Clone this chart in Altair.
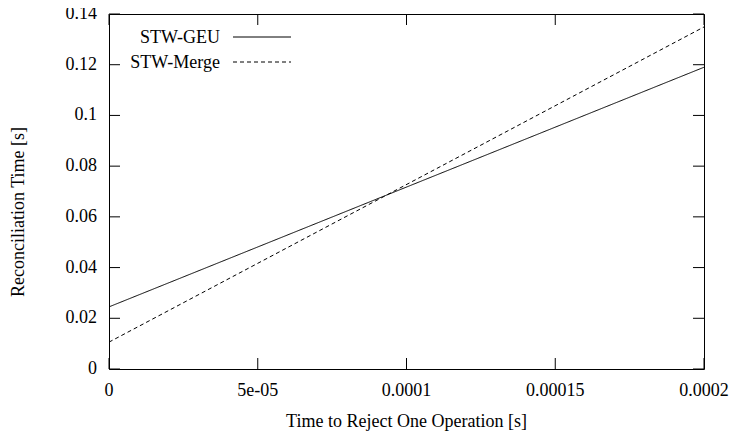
import altair as alt
import pandas as pd

# Data
x_vals = [0.0, 0.0002]
geu_vals = [0.0245, 0.119]
merge_vals = [0.0106, 0.1349]
series_names = ["STW-GEU", "STW-Merge"]
x_ticks = [0.0, 0.00005, 0.0001, 0.00015, 0.0002]
x_tick_labels = ["0", "5e-05", "0.0001", "0.00015", "0.0002"]
y_ticks = [0.0, 0.02, 0.04, 0.06, 0.08, 0.10, 0.12, 0.14]
y_tick_labels = ["0", "0.02", "0.04", "0.06", "0.08", "0.1", "0.12", "0.14"]
x_title = "Time to Reject One Operation [s]"
y_title = "Reconciliation Time [s]"

W, H = 595, 355
FONT = "Liberation Serif"
FS = 18

rows = []
for xv, g, m in zip(x_vals, geu_vals, merge_vals):
    rows.append({"x": xv, "y": g, "series": series_names[0]})
    rows.append({"x": xv, "y": m, "series": series_names[1]})
df = pd.DataFrame(rows)

xscale = alt.Scale(domain=[0, 0.0002], nice=False, zero=False)
yscale = alt.Scale(domain=[0, 0.14], nice=False, zero=False)

base_lines = alt.Chart(df).mark_line(color="black", strokeWidth=1).encode(
    x=alt.X("x:Q", scale=xscale, axis=None),
    y=alt.Y("y:Q", scale=yscale, axis=None),
    detail="series:N",
    strokeDash=alt.StrokeDash("series:N", scale=alt.Scale(domain=series_names, range=[[1, 0], [4, 3]]),
                              legend=None),
)

xt = pd.DataFrame({"x": x_ticks, "lab": x_tick_labels})
yt = pd.DataFrame({"y": y_ticks, "lab": y_tick_labels})
TL = 11
xtick_b = alt.Chart(xt).mark_rule(color="black", strokeWidth=1).encode(
    x=alt.X("x:Q", scale=xscale, axis=None), y=alt.value(H), y2=alt.value(H - TL))
xtick_t = alt.Chart(xt).mark_rule(color="black", strokeWidth=1).encode(
    x=alt.X("x:Q", scale=xscale, axis=None), y=alt.value(0), y2=alt.value(TL))
ytick_l = alt.Chart(yt).mark_rule(color="black", strokeWidth=1).encode(
    y=alt.Y("y:Q", scale=yscale, axis=None), x=alt.value(0), x2=alt.value(TL))
ytick_r = alt.Chart(yt).mark_rule(color="black", strokeWidth=1).encode(
    y=alt.Y("y:Q", scale=yscale, axis=None), x=alt.value(W), x2=alt.value(W - TL))

txt = dict(font=FONT, fontSize=FS, color="black")
xlab = alt.Chart(xt).mark_text(align="center", baseline="middle", **txt).encode(
    x=alt.X("x:Q", scale=xscale, axis=None), y=alt.value(H + 22), text="lab:N")
ylab = alt.Chart(yt).mark_text(align="right", baseline="middle", **txt).encode(
    y=alt.Y("y:Q", scale=yscale, axis=None), x=alt.value(-12), text="lab:N")

one = pd.DataFrame({"k": [0]})
xtitle = alt.Chart(one).mark_text(align="center", baseline="middle", **txt).encode(
    x=alt.value(W / 2), y=alt.value(H + 53), text=alt.value(x_title))
ytitle = alt.Chart(one).mark_text(align="center", baseline="middle", angle=270, **txt).encode(
    x=alt.value(-90), y=alt.value(198), text=alt.value(y_title))

leg_t1 = alt.Chart(one).mark_text(align="right", baseline="middle", **txt).encode(
    text=alt.value(series_names[0]), x=alt.value(111), y=alt.value(24))
leg_t2 = alt.Chart(one).mark_text(align="right", baseline="middle", **txt).encode(
    text=alt.value(series_names[1]), x=alt.value(111), y=alt.value(49))
leg_geu = alt.Chart(one).mark_rule(color="black", strokeWidth=1).encode(
    x=alt.value(124), x2=alt.value(182), y=alt.value(23))
leg_merge = alt.Chart(one).mark_rule(color="black", strokeWidth=1, strokeDash=[4, 3]).encode(
    x=alt.value(124), x2=alt.value(182), y=alt.value(48))

chart = alt.layer(base_lines, xtick_b, xtick_t, ytick_l, ytick_r, xlab, ylab,
                  xtitle, ytitle, leg_t1, leg_t2, leg_geu, leg_merge).properties(
    width=W, height=H,
    autosize=alt.AutoSizeParams(type="none"),
    padding={"left": 101, "top": 6, "right": 26, "bottom": 68},
).configure_view(
    stroke="black", strokeWidth=1
)

chart.save("out.html", embed_options={"renderer": "svg", "actions": False})
